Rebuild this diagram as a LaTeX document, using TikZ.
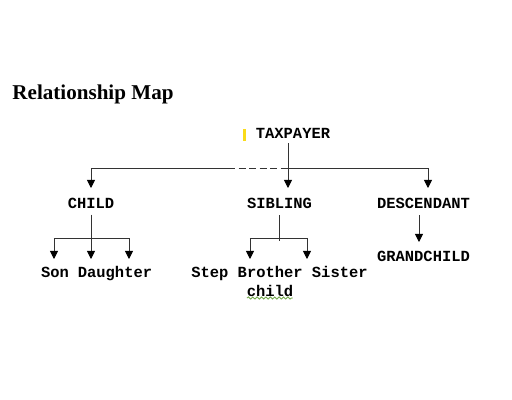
\documentclass[tikz,border=0pt]{standalone}
\usepackage{fontspec}
\setmainfont{Liberation Serif}
\setmonofont{Liberation Mono}
\usetikzlibrary{arrows.meta,decorations.pathmorphing}
\definecolor{MarkClr}{rgb}{0.98,0.86,0.1}
\definecolor{SpellClr}{rgb}{0.45,0.66,0.3}
\definecolor{LineClr}{rgb}{0.2,0.2,0.2}

\begin{document}
\begin{tikzpicture}[x=0.02cm,y=-0.02cm,
  line width=0.5pt,
  lbl/.style={inner sep=0pt,anchor=base,font=\ttfamily\bfseries\fontsize{8.8}{10}\selectfont},
  head/.style={inner sep=0pt,anchor=base west,font=\bfseries\fontsize{12}{14}\selectfont},
  link/.style={draw=LineClr},
  tip/.style={link,-{Triangle[width=4.6pt,length=4.6pt,color=black]}}]
\fill[white] (0,0) rectangle (512,400);
\useasboundingbox (0,0) rectangle (512,400);

\node[head] (title) at (12,99) {Relationship Map};

\node[lbl] (tax) at (293,138) {TAXPAYER};
\node[lbl] (child) at (91,208) {CHILD};
\node[lbl] (sib) at (279.5,208) {SIBLING};
\node[lbl] (desc) at (423.5,208) {DESCENDANT};
\node[lbl] (gchild) at (423.5,261) {GRANDCHILD};
\node[lbl] (son) at (55,277) {Son};
\node[lbl] (dau) at (115,277) {Daughter};
\node[lbl] (sbs) at (279.5,277) {Step Brother Sister};
\node[lbl] (stepch) at (270,296) {child};

% main bar
\coordinate (J0) at (288,168);
\coordinate (L0) at (91,168);
\coordinate (R0) at (428,168);
\coordinate (D0) at (228,168);
\draw[link] (tax.south -| J0) ++(0,5) -- (288,172);
\draw[link] (L0) -- (D0);
\draw[link,dash pattern=on 4pt off 2pt] (D0) -- (J0);
\draw[link] (J0) -- (R0);
\draw[tip] (L0) -- (91,188);
\draw[tip] (J0) -- (288,188);
\draw[tip] (R0) -- (428,188);

% child branch
\coordinate (J1) at (91,238);
\draw[link] (child.south) ++(0,6) -- (91,241);
\draw[link] (54,238) -- (129,238);
\foreach \x in {54,91,129}
  \draw[tip] (\x,238) -- (\x,259);

% sibling branch
\coordinate (J2) at (279,238);
\draw[link] (279,215) -- (279,241);
\draw[link] (250,238) -- (307,238);
\foreach \x in {250,307}
  \draw[tip] (\x,238) -- (\x,259);

% descendant
\draw[tip] (419,215) -- (419,242);

% marks of the screenshot
\fill[MarkClr] (243,129) rectangle (246,141);
\draw[SpellClr,line width=0.5pt,decorate,decoration={snake,amplitude=0.6pt,segment length=2.5pt}] (247,298) -- (293,298);

\end{tikzpicture}
\end{document}
